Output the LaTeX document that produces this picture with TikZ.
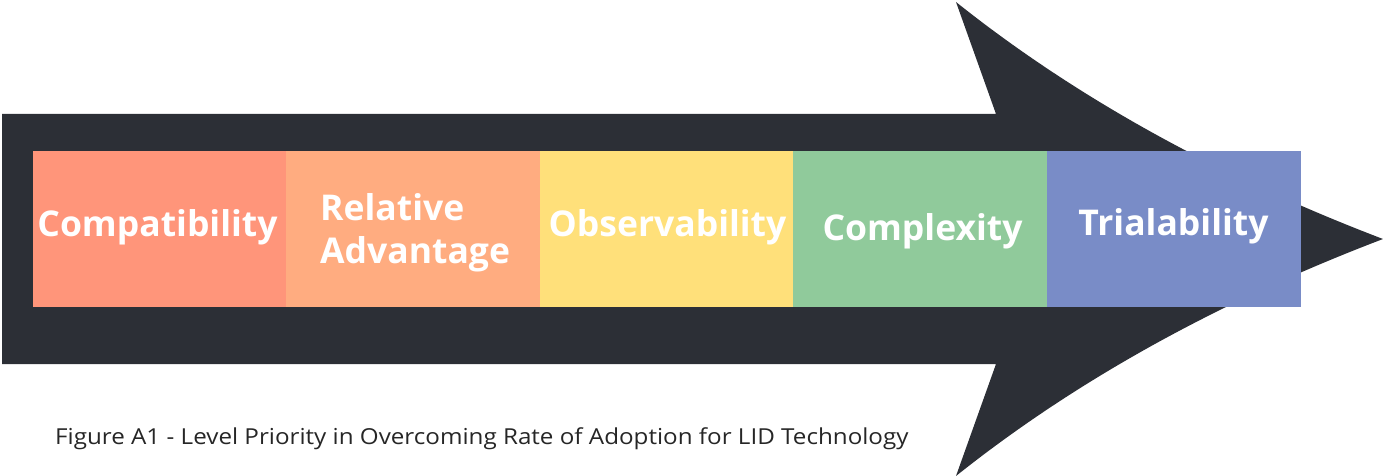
\documentclass[tikz,border=0pt]{standalone}
\usepackage{fontspec}
\usepackage{graphicx}
\setmainfont{Open Sans}
\definecolor{arrowdark}{HTML}{2C2F36}
\definecolor{cA}{HTML}{FF957A}
\definecolor{cB}{HTML}{FFAC80}
\definecolor{cC}{HTML}{FFE07A}
\definecolor{cD}{HTML}{90CA9B}
\definecolor{cE}{HTML}{798CC7}
\definecolor{captiongray}{HTML}{262626}
\tikzset{
  seg/.style={fill=#1, draw=none},
  lbl/.style={text=white, font=\fontsize{35.5}{43}\selectfont\bfseries, anchor=base, inner sep=0pt},
  captionstyle/.style={text=captiongray, font=\fontsize{22}{26}\selectfont, anchor=base west, inner sep=0pt}
}
\begin{document}
\begin{tikzpicture}[x=1pt,y=-1pt]
\useasboundingbox (0,0) rectangle (1383,476);
% arrow body
\fill[arrowdark] (2,114) -- (996,114) -- (956,2)
  .. controls (1074.7,96.7) and (1217,175.7) .. (1383,239)
  .. controls (1217,302.3) and (1074.7,381.3) .. (956,476)
  -- (996,364) -- (2,364) -- cycle;
% segments
\fill[seg=cA] (33,151) rectangle (286,307);
\fill[seg=cB] (286,151) rectangle (540,307);
\fill[seg=cC] (540,151) rectangle (793,307);
\fill[seg=cD] (793,151) rectangle (1047,307);
\fill[seg=cE] (1047,151) rectangle (1301,307);
% labels
\node[lbl] (l1) at (157.5,236) {Compatibility};
\node[lbl, anchor=base west] (l2a) at (320,220) {Relative};
\node[lbl, anchor=base west] (l2b) at (320,263) {Advantage};
\node[lbl] (l3) at (667.5,236) {Observability};
\node[lbl] (l4) at (922.5,240) {Complexity};
\node[lbl] (l5) at (1173.5,235) {Trialability};
% caption
\node[captionstyle] (captiontext) at (55,444) {\scalebox{1.1}[1]{Figure A1 - Level Priority in Overcoming Rate of Adoption for LID Technology}};
\end{tikzpicture}
\end{document}
